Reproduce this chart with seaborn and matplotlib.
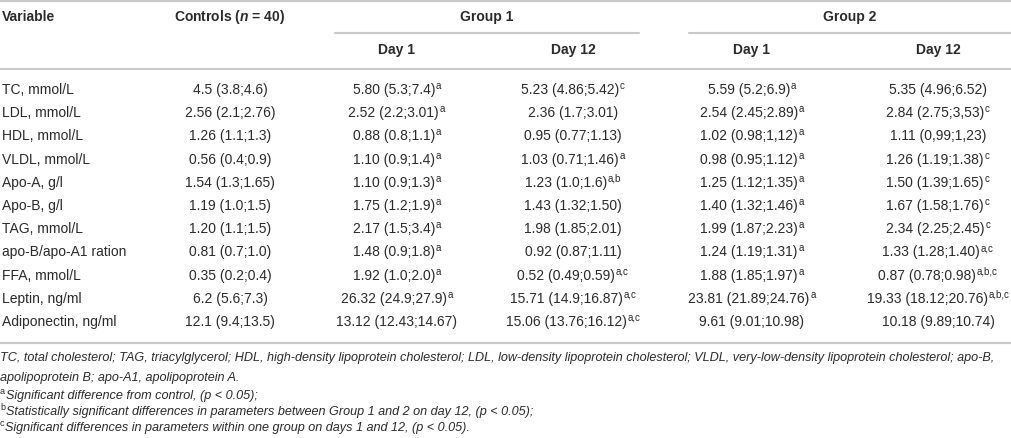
import matplotlib
matplotlib.use('Agg')
import matplotlib.pyplot as plt
import seaborn as sns

sns.set_theme(style='white')
plt.rcParams['font.family'] = ['Liberation Sans', 'DejaVu Sans']
plt.rcParams['mathtext.fontset'] = 'custom'
plt.rcParams['mathtext.rm'] = 'Liberation Sans'
plt.rcParams['mathtext.it'] = 'Liberation Sans:italic'
plt.rcParams['mathtext.bf'] = 'Liberation Sans:bold'
if 'mathtext.bfit' in plt.rcParams:
    plt.rcParams['mathtext.bfit'] = 'Liberation Sans:italic:bold'

# table content
variables = ['TC, mmol/L', 'LDL, mmol/L', 'HDL, mmol/L', 'VLDL, mmol/L', 'Apo-A, g/l',
             'Apo-B, g/l', 'TAG, mmol/L', 'apo-B/apo-A1 ration', 'FFA, mmol/L',
             'Leptin, ng/ml', 'Adiponectin, ng/ml']
controls = ['4.5 (3.8;4.6)', '2.56 (2.1;2.76)', '1.26 (1.1;1.3)', '0.56 (0.4;0.9)',
            '1.54 (1.3;1.65)', '1.19 (1.0;1.5)', '1.20 (1.1;1.5)', '0.81 (0.7;1.0)',
            '0.35 (0.2;0.4)', '6.2 (5.6;7.3)', '12.1 (9.4;13.5)']
g1_day1 = ['5.80 (5.3;7.4)', '2.52 (2.2;3.01)', '0.88 (0.8;1.1)', '1.10 (0.9;1.4)',
           '1.10 (0.9;1.3)', '1.75 (1.2;1.9)', '2.17 (1.5;3.4)', '1.48 (0.9;1.8)',
           '1.92 (1.0;2.0)', '26.32 (24.9;27.9)', '13.12 (12.43;14.67)']
g1_day1_sup = ['a', 'a', 'a', 'a', 'a', 'a', 'a', 'a', 'a', 'a', '']
g1_day12 = ['5.23 (4.86;5.42)', '2.36 (1.7;3.01)', '0.95 (0.77;1.13)', '1.03 (0.71;1.46)',
            '1.23 (1.0;1.6)', '1.43 (1.32;1.50)', '1.98 (1.85;2.01)', '0.92 (0.87;1.11)',
            '0.52 (0.49;0.59)', '15.71 (14.9;16.87)', '15.06 (13.76;16.12)']
g1_day12_sup = ['c', '', '', 'a', 'a,b', '', '', '', 'a,c', 'a,c', 'a,c']
g2_day1 = ['5.59 (5.2;6.9)', '2.54 (2.45;2.89)', '1.02 (0.98;1,12)', '0.98 (0.95;1.12)',
           '1.25 (1.12;1.35)', '1.40 (1.32;1.46)', '1.99 (1.87;2.23)', '1.24 (1.19;1.31)',
           '1.88 (1.85;1.97)', '23.81 (21.89;24.76)', '9.61 (9.01;10.98)']
g2_day1_sup = ['a', 'a', 'a', 'a', 'a', 'a', 'a', 'a', 'a', 'a', '']
g2_day12 = ['5.35 (4.96;6.52)', '2.84 (2.75;3,53)', '1.11 (0,99;1,23)', '1.26 (1.19;1.38)',
            '1.50 (1.39;1.65)', '1.67 (1.58;1.76)', '2.34 (2.25;2.45)', '1.33 (1.28;1.40)',
            '0.87 (0.78;0.98)', '19.33 (18.12;20.76)', '10.18 (9.89;10.74)']
g2_day12_sup = ['', 'c', '', 'c', 'c', 'c', 'c', 'a,c', 'a,b,c', 'a,b,c', '']

footnotes = [
    ('', 'TC, total cholesterol; TAG, triacylglycerol; HDL, high-density lipoprotein cholesterol; '
         'LDL, low-density lipoprotein cholesterol; VLDL, very-low-density lipoprotein cholesterol; apo-B,'),
    ('', 'apolipoprotein B; apo-A1, apolipoprotein A.'),
    ('a', 'Significant difference from control, (p < 0.05);'),
    ('b', 'Statistically significant differences in parameters between Group 1 and 2 on day 12, (p < 0.05);'),
    ('c', 'Significant differences in parameters within one group on days 1 and 12, (p < 0.05).'),
]

W, H = 1012, 438
txt = '#2b2b2b'
rule = '#c9c9c9'

fig = plt.figure(figsize=(W / 100, H / 100), dpi=100)
ax = fig.add_axes([0, 0, 1, 1])
ax.set_xlim(0, W)
ax.set_ylim(H, 0)
ax.axis('off')
renderer = fig.canvas.get_renderer()

fs = 10
sfs = 7
off = 4  # centre of caps -> baseline
col_x = [230, 397, 573, 752, 938]
row0, step = 90, 23.2


def width_px(s, size, **kw):
    t = ax.text(0, 0, s, fontsize=size, **kw)
    w = t.get_window_extent(renderer).width
    t.remove()
    return w


def cell(x, y, s, sup=''):
    sw = width_px(sup, sfs) + 1 if sup else 0
    t = ax.text(x - sw / 2, y + off, s, ha='center', va='baseline', fontsize=fs, color=txt)
    if sup:
        ax.annotate(sup, xy=(1, 1), xycoords=t, xytext=(0.6, 1.5), textcoords='offset points',
                    ha='left', va='top', fontsize=sfs, color=txt)


def head(x, y, s, ha='center'):
    ax.text(x, y + off, s, ha=ha, va='baseline', fontsize=fs, fontweight='bold', color=txt)


# header
nfmt = r'$\mathbfit{n}$' if 'mathtext.bfit' in plt.rcParams else r'$n$'
head(2, 17, 'Variable', ha='left')
head(230, 17, 'Controls (' + nfmt + ' = 40)')
head(487, 17, 'Group 1')
head(850, 17, 'Group 2')
for x, lab in zip(col_x[1:], ['Day 1', 'Day 12', 'Day 1', 'Day 12']):
    head(x, 50, lab)

# rules
ax.plot([0, W], [1, 1], color=rule, lw=1.5)
ax.plot([335, 639], [33, 33], color=rule, lw=1.5)
ax.plot([689, W], [33, 33], color=rule, lw=1.5)
ax.plot([0, W], [69, 69], color=rule, lw=1.5)
ax.plot([0, W], [343, 343], color=rule, lw=1.5)

# body
for i in range(len(variables)):
    y = row0 + i * step
    ax.text(2, y + off, variables[i], ha='left', va='baseline', fontsize=fs, color=txt)
    cell(col_x[0], y, controls[i])
    cell(col_x[1], y, g1_day1[i], g1_day1_sup[i])
    cell(col_x[2], y, g1_day12[i], g1_day12_sup[i])
    cell(col_x[3], y, g2_day1[i], g2_day1_sup[i])
    cell(col_x[4], y, g2_day12[i], g2_day12_sup[i])

# footnotes
foot_y = [358, 377, 395, 411, 427]
ffs = 9.05
for (sup, s), y in zip(footnotes, foot_y):
    x0 = 0
    if sup:
        ax.text(0, y - 0.5, sup, ha='left', va='baseline', fontsize=6.5, color=txt)
        x0 = width_px(sup, 6.5) + 1
    ax.text(x0, y + 3.5, s, ha='left', va='baseline', fontsize=ffs, style='italic', color=txt)

fig.savefig('out.png', dpi=100)
